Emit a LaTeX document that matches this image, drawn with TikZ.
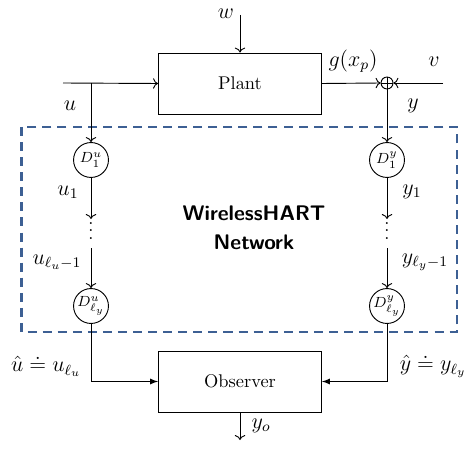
\documentclass[tikz,border=0pt]{standalone}
\usepackage{amsmath}
\usepackage{amssymb}
\usetikzlibrary{arrows,shapes,positioning,calc,arrows.meta}
\definecolor{netblue}{RGB}{61,96,148}

\begin{document}
\begin{tikzpicture}[x=0.01912cm, y=-0.01912cm, line width=0.5pt,
        blk/.style={draw, minimum width=88.7pt, minimum height=33.2pt},
        dnode/.style={draw, circle, inner sep=0pt, minimum size=19pt, font=\footnotesize},
        sumnode/.style={draw, circle, inner sep=0pt, minimum size=6.5pt},
        lbl/.style={font=\large},
        net/.style={draw=netblue, line width=1.1pt, dash pattern=on 4.9pt off 3.3pt}
        ]
        \useasboundingbox (0,0) rectangle (467,451);
        % network area
        \draw[net] (21.5,127) rectangle (457,332);
        \node[font=\sffamily\bfseries\fontsize{11.5}{15.5}\selectfont, align=center] (nw) at (254,228) {WirelessHART\\Network};

        % plant and observer
        \node[blk] (plant) at (240,83.5) {Plant};
        \node[blk] (obs) at (240,381.5) {Observer};
        \node[sumnode] (sum) at (387,83) {};
        \draw (sum.north) -- (sum.south) (sum.east) -- (sum.west);

        % relay nodes
        \node[dnode] (du1) at (91,160) {$D^u_1$};
        \node[dnode] (dy1) at (387,160) {$D^y_1$};
        \node[dnode] (dul) at (91,306) {$D^u_{\ell_y}$};
        \node[dnode] (dyl) at (387,306) {$D^y_{\ell_y}$};
        \node[inner sep=0pt] (udots) at (91,225.5) {$\vdots$};
        \node[inner sep=0pt] (ydots) at (387,225.5) {$\vdots$};

        \coordinate (in) at (63,83);
        \coordinate (jn) at (91,83);
        \coordinate (win) at (240,15);
        \coordinate (vin) at (443,83);
        \coordinate (ua) at (91,219);
        \coordinate (ub) at (91,248);
        \coordinate (ya) at (387,219);
        \coordinate (yb) at (387,248);
        \coordinate (yout) at (240,440);

        % connections
        \draw[->] (in) -- (plant.west);
        \draw[->] (jn) -- (du1.north);
        \draw[->] (win) -- (plant.north);
        \draw[->] (plant.east) -- (sum.west);
        \draw[->] (vin) -- (sum.east);
        \draw[->] (sum.south) -- (dy1.north);
        \draw[->] (du1.south) -- (ua);
        \draw[->] (ub) -- (dul.north);
        \draw[->] (dy1.south) -- (ya);
        \draw[->] (yb) -- (dyl.north);
        \draw[-latex] (dul.south) |- (obs.west);
        \draw[-latex] (dyl.south) |- (obs.east);
        \draw[->] (obs.south) -- (yout);

        % labels
        \node[lbl] at (226,14) {$w$};
        \node[lbl] at (70,106) {$u$};
        \node[lbl] at (353,61) {$g(x_p)$};
        \node[lbl] at (434,62) {$v$};
        \node[lbl] at (413,106) {$y$};
        \node[lbl] at (68,192) {$u_1$};
        \node[lbl] at (412,192) {$y_1$};
        \node[lbl] at (57,262) {$u_{\ell_u-1}$};
        \node[lbl] at (425,262) {$y_{\ell_y-1}$};
        \node[lbl] at (46,366) {$\hat{u} \doteq u_{\ell_u}$};
        \node[lbl] at (433,366) {$\hat{y} \doteq y_{\ell_y}$};
        \node[lbl] at (261,426) {$y_o$};
      \end{tikzpicture}
\end{document}
